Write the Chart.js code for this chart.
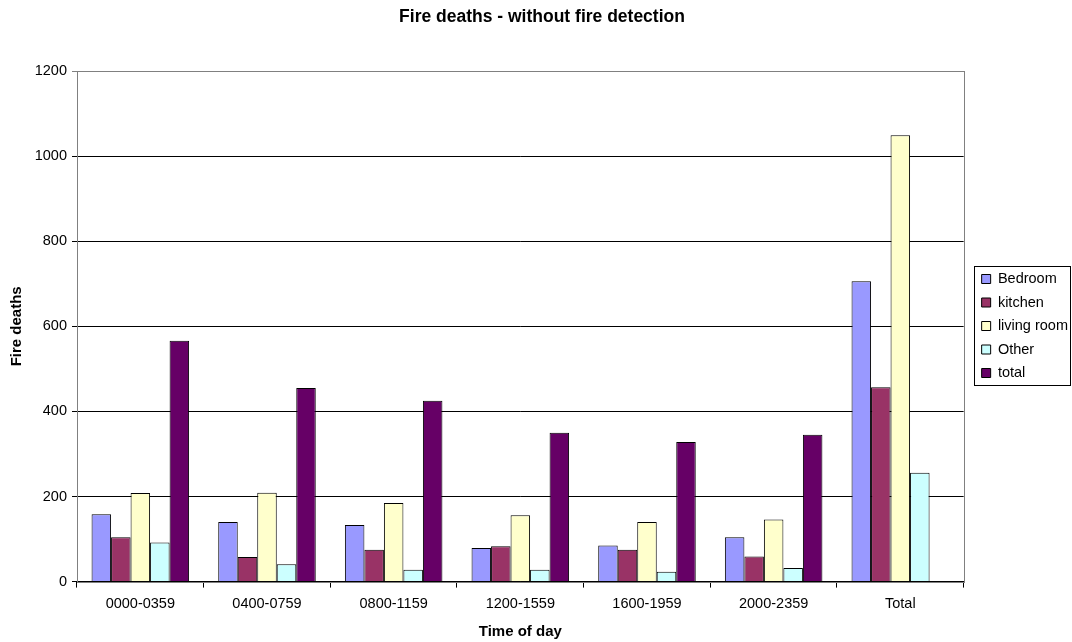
<!DOCTYPE html>
<html>
<head>
<meta charset="utf-8">
<title>Fire deaths - without fire detection</title>
<script src="https://cdn.jsdelivr.net/npm/chart.js@4"></script>
<style>
  html, body { margin: 0; padding: 0; background: #fff; }
  #wrap { width: 1072px; height: 642px; position: relative; }
</style>
</head>
<body>
<div id="wrap"><canvas id="myChart" width="1072" height="642"></canvas></div>
<script>
var categories = ['0000-0359', '0400-0759', '0800-1159', '1200-1559', '1600-1959', '2000-2359', 'Total'];

var bedroom    = [158, 140, 133,  79,  85, 104,  706];
var kitchen    = [104,  58,  75,  83,  75,  59,  457];
var livingRoom = [208, 209, 185, 156, 140, 146, 1049];
var other      = [ 92,  41,  28,  28,  23,  32,  256];
var total      = [566, 455, 425, 350, 328, 345, null];

var yTicks = [0, 200, 400, 600, 800, 1000, 1200];

var FONT = 'Liberation Sans, Arial, sans-serif';

var alldata = [
    { label: 'Bedroom',     data: bedroom,    backgroundColor: '#9999FF' },
    { label: 'kitchen',     data: kitchen,    backgroundColor: '#993366' },
    { label: 'living room', data: livingRoom, backgroundColor: '#FFFFCC' },
    { label: 'Other',       data: other,      backgroundColor: '#CCFFFF' },
    { label: 'total',       data: total,      backgroundColor: '#660066' }
];
alldata.forEach(function(d){
    d.borderColor = '#000';
    d.borderWidth = 1;
    d.borderSkipped = 'bottom';
});

// grey frame round the plot area, drawn under the bars
var plotFrame = {
    id: 'plotFrame',
    beforeDatasetsDraw: function(chart){
        var a = chart.chartArea, ctx = chart.ctx;
        ctx.save();
        ctx.strokeStyle = '#808080';
        ctx.lineWidth = 1;
        ctx.strokeRect(Math.round(a.left) + 0.5, Math.round(a.top) + 0.5,
                       Math.round(a.right - a.left), Math.round(a.bottom - a.top));
        ctx.restore();
    }
};

// leave a gap between plot and legend, and nudge the legend down a little
var LEGEND_GAP = 9, LEGEND_DROP = 2;
var legendShift = {
    id: 'legendShift',
    beforeLayout: function(chart){
        var lg = chart.legend;
        if(lg && !lg._wrapped){
            var fit = lg.fit;
            lg.fit = function(){
                fit.apply(this, arguments);
                this.width += LEGEND_GAP;
            };
            lg._wrapped = true;
        }
    },
    afterLayout: function(chart){
        var lg = chart.legend;
        lg.left += LEGEND_GAP;
        lg.right += LEGEND_GAP;
        lg.top += LEGEND_DROP;
        lg.bottom += LEGEND_DROP;
    }
};

// box round the legend, like the spreadsheet one
var legendBox = {
    id: 'legendBox',
    afterDraw: function(chart){
        var boxes = chart.legend.legendHitBoxes;
        if(!boxes || !boxes.length) return;
        var l = Infinity, t = Infinity, r = -Infinity, b = -Infinity;
        boxes.forEach(function(h){
            l = Math.min(l, h.left); t = Math.min(t, h.top);
            r = Math.max(r, h.left + h.width); b = Math.max(b, h.top + h.height);
        });
        var ctx = chart.ctx;
        ctx.save();
        ctx.strokeStyle = '#000';
        ctx.lineWidth = 1;
        ctx.strokeRect(Math.round(l - 8) + 0.5, Math.round(t - 6) + 0.5,
                       Math.round(r - l + 10), Math.round(b - t + 10));
        ctx.restore();
    }
};

var canvas = document.getElementById('myChart').getContext('2d');
var myChart = new Chart(canvas, {
    type: 'bar',
    data: {
        labels: categories,
        datasets: alldata
    },
    plugins: [plotFrame, legendShift, legendBox],
    options: {
        responsive: false,
        animation: false,
        categoryPercentage: 0.77,
        barPercentage: 1,
        layout: { padding: { left: 6, right: -6, top: 7, bottom: 1 } },
        plugins: {
            title: {
                display: true,
                text: 'Fire deaths - without fire detection',
                color: '#000',
                font: { family: FONT, size: 17.5, weight: 'bold' },
                padding: { top: 0, bottom: 43 }
            },
            legend: {
                position: 'right',
                align: 'center',
                labels: {
                    color: '#000',
                    font: { family: FONT, size: 14.5 },
                    boxWidth: 9,
                    boxHeight: 9,
                    padding: 9,
                    useBorderRadius: false
                }
            },
            tooltip: { enabled: false }
        },
        scales: {
            x: {
                grid: {
                    offset: true,
                    drawOnChartArea: false,
                    drawTicks: true,
                    tickLength: 6,
                    color: '#000'
                },
                border: { color: '#000' },
                ticks: {
                    color: '#000',
                    font: { family: FONT, size: 14.5 },
                    padding: 8,
                    maxRotation: 0
                },
                title: {
                    display: true,
                    text: 'Time of day',
                    color: '#000',
                    font: { family: FONT, size: 15, weight: 'bold' },
                    padding: { top: 2, bottom: 0 }
                }
            },
            y: {
                min: 0,
                max: 1200,
                afterBuildTicks: function(axis){
                    axis.ticks = yTicks.map(function(v){ return { value: v }; });
                },
                afterFit: function(axis){
                    axis.width = 71;
                },
                grid: {
                    color: function(c){ return c.tick && c.tick.value === 1200 ? '#808080' : '#000'; },
                    tickLength: 5,
                    drawTicks: true
                },
                border: { color: '#000' },
                ticks: {
                    color: '#000',
                    font: { family: FONT, size: 14.5 },
                    padding: 5,
                    callback: function(value){ return String(value); }
                },
                title: {
                    display: true,
                    text: 'Fire deaths',
                    color: '#000',
                    font: { family: FONT, size: 15, weight: 'bold' },
                    padding: { top: 2, bottom: 0 }
                }
            }
        }
    }
});
</script>
</body>
</html>
